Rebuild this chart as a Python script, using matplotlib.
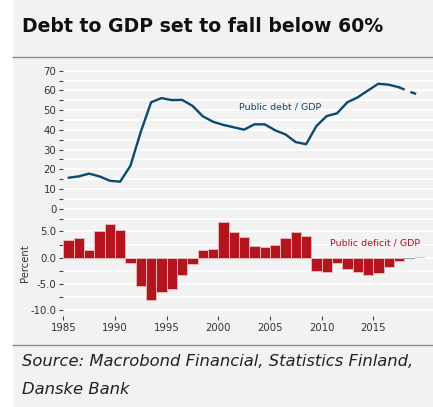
import matplotlib.pyplot as plt
from matplotlib.lines import Line2D
from matplotlib.patches import Rectangle
from matplotlib.ticker import MultipleLocator

# Public debt / GDP (%)
debt_years = list(range(1985, 2018))
debt = [15.7, 16.4, 17.8, 16.4, 14.2, 13.7, 21.8, 39.0, 54.0, 56.1, 55.1, 55.2,
        52.2, 46.9, 44.1, 42.5, 41.3, 40.1, 42.8, 42.8, 39.8, 37.7, 33.8, 32.7,
        41.9, 47.0, 48.4, 54.0, 56.5, 60.0, 63.4, 62.9, 61.6]
fc_years = [2017, 2018, 2019]
fc_debt = [61.6, 59.4, 57.6]

# Public deficit / GDP (%)
def_years = list(range(1985, 2018))
deficit = [3.3, 3.7, 1.5, 5.0, 6.45, 5.2, -0.95, -5.3, -8.1, -6.5, -5.9, -3.3,
           -1.25, 1.5, 1.65, 6.7, 4.8, 3.9, 2.2, 2.0, 2.5, 3.7, 4.9, 4.05,
           -2.5, -2.65, -1.05, -2.2, -2.65, -3.3, -2.85, -1.8, -0.7]
fc_def_years = [2018, 2019]
fc_deficit = [-0.25, 0.1]

bg = '#f2f2f2'
blue = '#0b4a70'
red = '#b3141e'
W, H = 433, 407

fig = plt.figure(figsize=(W / 100, H / 100), dpi=100, facecolor='white')
fig.patches.append(Rectangle((13 / W, 0), 1 - 13 / W, 1, transform=fig.transFigure,
                             facecolor=bg, edgecolor='none', zorder=-10))
for yy in (57.3, 345):
    fig.lines.append(Line2D([13 / W, 1], [1 - yy / H] * 2, transform=fig.transFigure,
                            color='#8c8c8c', lw=1.0))

left = 63.3 / W
split = 1 - 220 / H
top = 1 - 64.8 / H
bottom = 1 - 315.7 / H
ax1 = fig.add_axes([left, split, 1 - left, top - split])
ax2 = fig.add_axes([left, bottom, 1 - left, split - bottom], sharex=ax1)

for ax in (ax1, ax2):
    ax.set_facecolor(bg)
    for s in ax.spines.values():
        s.set_visible(False)
    ax.grid(True, which='both', axis='y', color='white', lw=1.3)
    ax.set_axisbelow(True)
    ax.tick_params(axis='y', which='both', direction='out', length=3, width=0.8,
                   color='#444444', labelsize=7.3, labelcolor='#333333', pad=2)

# top panel: debt (annual values plotted mid-year)
ax1.plot([y + 0.5 for y in debt_years], debt, color=blue, lw=1.7,
         solid_capstyle='round')
ax1.plot([y + 0.5 for y in fc_years], fc_debt, color=blue, lw=1.7,
         linestyle=(0, (2.6, 2.6)))
ax1.set_ylim(-5.73, 73)
ax1.yaxis.set_minor_locator(MultipleLocator(5))
ax1.set_yticks(range(0, 71, 10))
ax1.set_yticklabels([str(v) for v in range(0, 71, 10)])
ax1.tick_params(axis='x', which='both', bottom=False, labelbottom=False)
ax1.text(2002.0, 51.7, 'Public debt / GDP', color=blue, fontsize=6.8,
         ha='left', va='center')

# bottom panel: deficit
ax2.bar(def_years, deficit, width=1.0, align='edge', color=red,
        edgecolor='#e9b5b5', linewidth=0.7)
ax2.bar(fc_def_years, [fc_deficit[0], 0], width=1.0, align='edge', color='#9a9a9a',
        edgecolor='none')
ax2.bar(fc_def_years, [0, fc_deficit[1]], width=1.0, align='edge', color='#cccccc',
        edgecolor='none')
ax2.set_ylim(-11, 7.15)
ax2.set_yticks([5, 0, -5, -10])
ax2.set_yticklabels(['5.0', '0.0', '-5.0', '-10.0'])
ax2.yaxis.set_minor_locator(MultipleLocator(2.5))
ax2.text(2010.8, 2.73, 'Public deficit / GDP', color=red, fontsize=6.8,
         ha='left', va='center')

ax2.set_xlim(1985, 1985 + (W - 63.3) / 10.33)
ax2.set_xticks(range(1985, 2016, 5))
ax2.tick_params(axis='x', direction='out', length=3, width=0.8, color='#444444',
                labelsize=7.3, labelcolor='#333333', pad=2.5)

fig.text(25 / W, 1 - 263 / H, 'Percent', rotation=90, fontsize=7.3, color='#333333',
         ha='center', va='center')

fig.text(22 / W, 1 - 27 / H, 'Debt to GDP set to fall below 60%', fontsize=13.6,
         fontweight='bold', color='#111111', ha='left', va='center')
fig.text(22 / W, 1 - 362 / H, 'Source: Macrobond Financial, Statistics Finland,',
         fontsize=11.8, style='italic', color='#222222', ha='left', va='center')
fig.text(22 / W, 1 - 390 / H, 'Danske Bank',
         fontsize=11.8, style='italic', color='#222222', ha='left', va='center')

fig.savefig('out.png', dpi=100, facecolor=fig.get_facecolor())
